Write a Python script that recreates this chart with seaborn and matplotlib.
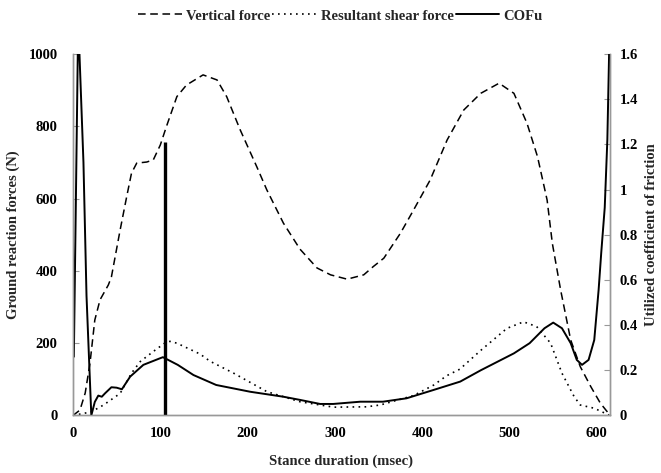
import matplotlib
matplotlib.use("Agg")
import matplotlib.pyplot as plt
import seaborn as sns
import numpy as np
import pandas as pd
from matplotlib.lines import Line2D

# Vertical ground reaction force (N)
vert_t = [0, 8, 14, 19.5, 25, 31, 40.5, 44, 54, 61.5, 67, 73, 84.5, 92, 100, 107, 119, 130,
          149, 165, 176, 191.5, 210.5, 222, 241, 260, 279.5, 295, 314, 333, 344, 356, 375,
          390, 409, 428.5, 447.6, 467, 488, 505, 520, 532, 543, 549, 558.5, 570, 581, 593,
          604, 614]
vert_f = [0, 15, 62, 145, 264, 320, 361, 383, 513, 605, 670, 698, 701, 707, 748, 799, 882, 914,
          942, 928, 882, 790, 688, 624, 532, 460, 408, 389, 377, 389, 412, 435, 504,
          568, 651, 762, 845, 891, 919, 891, 808, 716, 596, 476, 347, 209, 135, 80,
          34, 4]

# Resultant shear force (N)
shear_t = [0, 21, 35, 54, 67, 77, 92, 105, 111, 119, 145.5, 157, 184, 222, 260, 298.5, 336,
           352, 375, 390, 413, 428, 443, 467, 497, 516, 531, 547, 560, 574, 581, 597, 614]
shear_f = [0, 10, 29, 61, 117, 149, 177, 200, 205, 200, 170, 150, 117, 66, 38, 23, 24,
           29, 45, 55, 84, 110, 128, 180, 241, 259, 246, 200, 117, 52, 29, 20, 1]

# Utilized coefficient of friction
cof_t = [0, 1, 6, 12, 15.5, 21, 25, 29, 33, 36.7, 44, 50, 56, 65.5, 80.6, 99.6, 103, 120,
         138, 164, 203, 241, 260, 283, 298, 329, 355, 382, 413, 443.5, 467, 505, 523, 540,
         550, 560, 570, 577, 583, 590.5, 597, 602, 605, 609, 612, 614]
cof_v = [0.80, 0.26, 1.75, 1.12, 0.53, 0.0, 0.06, 0.088, 0.083, 0.098, 0.125, 0.123, 0.116,
         0.172, 0.224, 0.253, 0.258, 0.224, 0.179, 0.135, 0.105, 0.083, 0.069, 0.051, 0.051,
         0.061, 0.061, 0.076, 0.113, 0.150, 0.200, 0.275, 0.320, 0.386, 0.411, 0.386, 0.320,
         0.246, 0.224, 0.246, 0.334, 0.556, 0.72, 0.92, 1.22, 1.60]

# Peak COFu marker
peak_t = 105
peak_cof = 1.21

vert = pd.DataFrame({'t': vert_t, 'f': vert_f})
shear = pd.DataFrame({'t': shear_t, 'f': shear_f})
cof = pd.DataFrame({'t': cof_t, 'v': cof_v})

sns.set_style("white")
plt.rcParams['font.family'] = ['Liberation Serif', 'DejaVu Serif']
plt.rcParams['font.weight'] = 'bold'

fig = plt.figure(figsize=(6.61, 4.73), dpi=100)
ax = fig.add_axes([0.1104, 0.1216, 0.8124, 0.7644])
ax2 = ax.twinx()

dash = (0, (5, 3))
dot = (0, (1, 2.6))

sns.lineplot(data=vert, x='t', y='f', ax=ax, color='black', linewidth=1.1,
             linestyle='--', sort=False)
ax.lines[-1].set_linestyle(dash)
sns.lineplot(data=shear, x='t', y='f', ax=ax, color='black', linewidth=1.2, sort=False)
ax.lines[-1].set_linestyle(dot)
sns.lineplot(data=cof, x='t', y='v', ax=ax2, color='black', linewidth=1.4, sort=False)
ax2.vlines(peak_t, 0, peak_cof, color='black', linewidth=2.4)

ax.set_xlim(0, 615)
ax.set_ylim(0, 1000)
ax2.set_ylim(0, 1.6)
ax.set_xticks(range(0, 700, 100))
ax.set_yticks(range(0, 1200, 200))
ax2.set_yticks([0, 0.2, 0.4, 0.6, 0.8, 1.0, 1.2, 1.4, 1.6])
ax2.set_yticklabels(['0', '0.2', '0.4', '0.6', '0.8', '1', '1.2', '1.4', '1.6'])

for a in (ax, ax2):
    a.spines['top'].set_visible(False)
    for s in ('left', 'right', 'bottom'):
        a.spines[s].set_color('#999999')
        a.spines[s].set_linewidth(1.0)
    a.tick_params(direction='in', length=4, width=0.8, color='#999999',
                  labelsize=10.5, labelcolor='black')

ax.tick_params(axis='y', pad=11)
ax.tick_params(axis='x', pad=8)
ax2.tick_params(axis='y', pad=7)

ax.set_xlabel('Stance duration (msec)', fontsize=10.5, fontweight='bold', labelpad=11)
ax.set_ylabel('Ground reaction forces (N)', fontsize=10.5, fontweight='bold', labelpad=6)
ax2.set_ylabel('Utilized coefficient of friction', fontsize=10.5, fontweight='bold',
               rotation=90, labelpad=5)

handles = [Line2D([], [], color='black', linewidth=1.1, linestyle=dash),
           Line2D([], [], color='black', linewidth=1.2, linestyle=dot),
           Line2D([], [], color='black', linewidth=1.4)]
fig.legend(handles, ['Vertical force', 'Resultant shear force', 'COFu'],
           loc='upper center', bbox_to_anchor=(0.515, 1.008), ncol=3, frameon=False,
           prop={'size': 10.5, 'weight': 'bold'}, handlelength=3.0,
           columnspacing=0.15, handletextpad=0.3)

fig.savefig('out.png', dpi=100)
